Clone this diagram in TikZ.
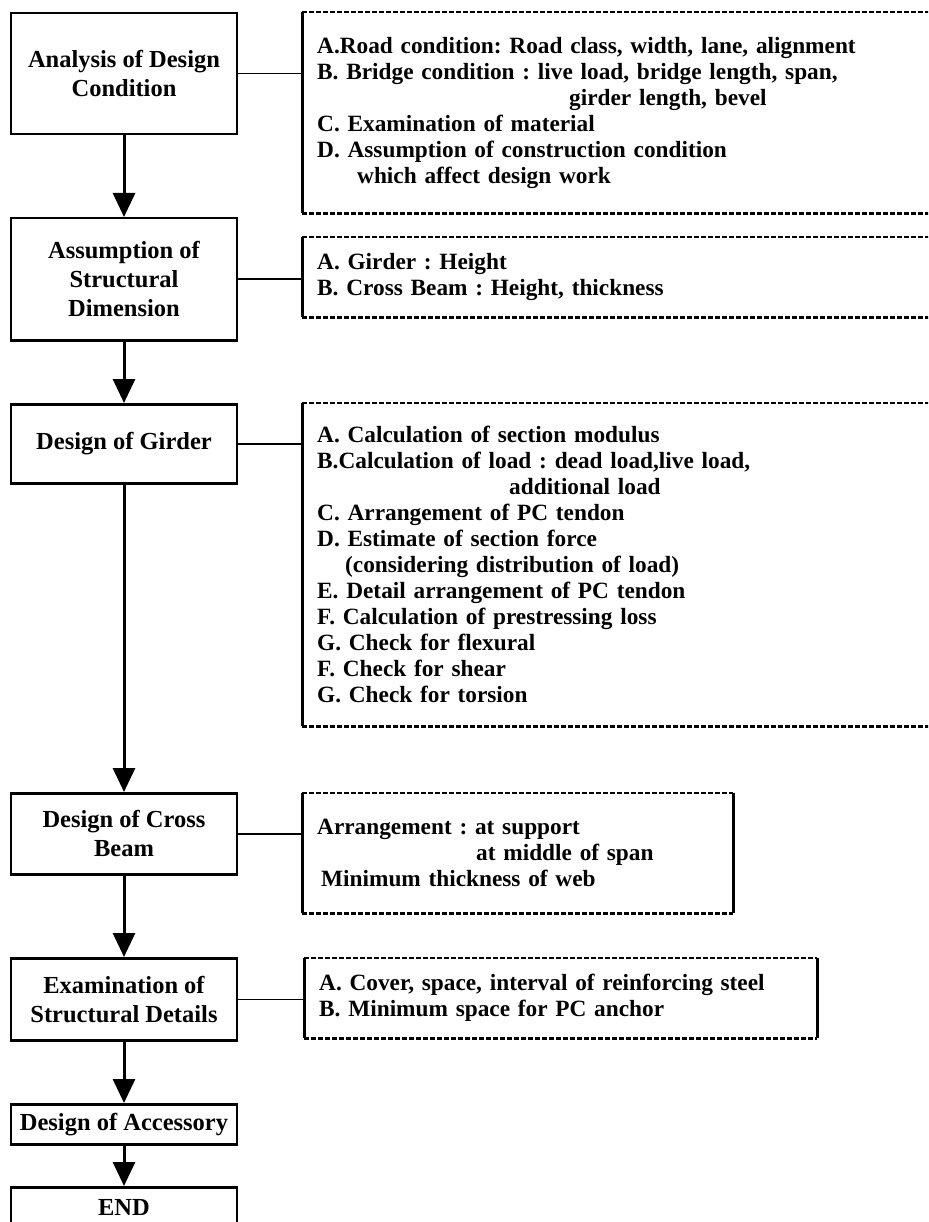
\documentclass[tikz,border=0pt]{standalone}
\usepackage{fontspec}
\setmainfont{Liberation Serif}
\usetikzlibrary{arrows.meta, positioning}
\frenchspacing

\tikzset{
    stepbox/.style={draw, line width=2.5pt, minimum width=226pt, inner sep=0pt,
        anchor=north, align=center, font=\fontsize{24.5}{29}\selectfont\bfseries},
    notebox/.style={anchor=north west, inner xsep=15pt, inner ysep=0pt, align=left,
        font=\fontsize{23.3}{26}\selectfont\bfseries},
    solidedge/.style={line width=3pt},
    dashedge/.style={line width=2.5pt, dash pattern=on 5pt off 2pt},
    flow/.style={line width=3pt, -{Triangle[width=22pt,length=24pt]}},
    link/.style={line width=1.5pt},
}

\begin{document}
\begin{tikzpicture}[x=1pt, y=-1pt]
    \path[use as bounding box] (0,0) rectangle (928,1222);
    \clip (0,0) rectangle (928,1222);

    % steps of the flow
    \node[stepbox, minimum height=121pt] (cond) at (124,12) {Analysis of Design\\Condition};
    \node[stepbox, minimum height=122pt] (dim) at (124,217) {Assumption of\\Structural\\Dimension};
    \node[stepbox, minimum height=79pt] (girder) at (124,403) {Design of Girder};
    \node[stepbox, minimum height=81pt] (cross) at (124,792) {Design of Cross\\Beam};
    \node[stepbox, minimum height=82pt] (detail) at (124,957) {Examination of\\Structural Details};
    \node[stepbox, minimum height=40pt] (access) at (124,1103) {Design of Accessory};
    \node[stepbox, minimum height=40pt] (finish) at (124,1186) {END};

    % notes beside the steps
    \node[notebox, text width=608pt, minimum height=201pt] (condnote) at (302,12) {%
        A.Road condition: Road class, width, lane, alignment\\
        B. Bridge condition : live load, bridge length, span,\\
        \hspace*{252pt}girder length, bevel\\
        C. Examination of material\\
        D. Assumption of construction condition\\
        \hspace*{40pt}which affect design work};
    \node[notebox, text width=608pt, minimum height=80pt] (dimnote) at (302,237) {%
        A. Girder : Height\\
        B. Cross Beam : Height, thickness};
    \node[notebox, text width=608pt, minimum height=323pt] (girdernote) at (302,403) {%
        A. Calculation of section modulus\\
        B.Calculation of load : dead load,live load,\\
        \hspace*{192pt}additional load\\
        C. Arrangement of PC tendon\\
        D. Estimate of section force\\
        \hspace*{28pt}(considering distribution of load)\\
        E. Detail arrangement of PC tendon\\
        F. Calculation of prestressing loss\\
        G. Check for flexural\\
        F. Check for shear\\
        G. Check for torsion};
    \node[notebox, text width=401pt, minimum height=120pt] (crossnote) at (302,793) {%
        Arrangement : at support\\
        \hspace*{159pt}at middle of span\\
        \hspace*{4pt}Minimum thickness of web};
    \node[notebox, text width=483pt, minimum height=80pt] (detailnote) at (304,958) {%
        A. Cover, space, interval of reinforcing steel\\
        B. Minimum space for PC anchor};

    % frames of the notes
    \foreach \n in {condnote, dimnote, girdernote, crossnote, detailnote} {
        \draw[dashedge] (\n.north west) -- (\n.north east);
        \draw[dashedge] (\n.south west) -- (\n.south east);
        \draw[solidedge] (\n.north west) -- (\n.south west);
    }
    \draw[solidedge] (crossnote.north east) -- (crossnote.south east);
    \draw[solidedge] (detailnote.north east) -- (detailnote.south east);

    % arrows
    \draw[flow] (cond) -- (dim);
    \draw[flow] (dim) -- (girder);
    \draw[flow] (girder) -- (cross);
    \draw[flow] (cross) -- (detail);
    \draw[flow] (detail) -- (access);
    \draw[flow] (access) -- (finish);

    % links to the notes
    \draw[link] (cond.east) -- (cond.east -| condnote.west);
    \draw[link] (dim.east) -- (dim.east -| dimnote.west);
    \draw[link] (girder.east) -- (girder.east -| girdernote.west);
    \draw[link] (cross.east) -- (cross.east -| crossnote.west);
    \draw[link] (detail.east) -- (detail.east -| detailnote.west);
\end{tikzpicture}
\end{document}
